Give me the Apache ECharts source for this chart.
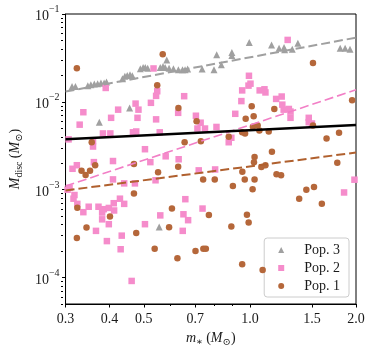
<!DOCTYPE html>
<html>
<head>
<meta charset="utf-8">
<script src="https://cdn.jsdelivr.net/npm/echarts@6/dist/echarts.min.js"></script>
<style>
html, body { margin: 0; padding: 0; background: #fff; }
#chart { width: 374px; height: 354px; }
</style>
</head>
<body>
<div id="chart"></div>
<script>
// m_star (Msun), M_disc (Msun)
var pop3 = [
    [0.313, 0.0150], [0.320, 0.0150], [0.347, 0.0153], [0.354, 0.0157], [0.362, 0.0160],
    [0.370, 0.0161], [0.378, 0.0164], [0.386, 0.0164], [0.392, 0.0168], [0.435, 0.0183],
    [0.442, 0.0195], [0.449, 0.0200], [0.457, 0.0203], [0.464, 0.0198], [0.489, 0.0238],
    [0.498, 0.0246], [0.505, 0.0246], [0.513, 0.0242], [0.557, 0.0246], [0.567, 0.0253],
    [0.575, 0.0246], [0.581, 0.0299], [0.590, 0.0242], [0.607, 0.0238], [0.627, 0.0232],
    [0.644, 0.0232], [0.655, 0.0232], [0.666, 0.0236], [0.732, 0.0236], [0.791, 0.0232],
    [0.805, 0.0343], [0.830, 0.0264], [0.889, 0.0364], [0.889, 0.0338], [0.996, 0.0473],
    [1.152, 0.0445], [1.21, 0.0408], [1.25, 0.0415], [1.255, 0.0391], [1.319, 0.0398],
    [1.368, 0.0466], [1.804, 0.0408], [1.863, 0.0408], [1.923, 0.0398],
    [0.374, 0.00586], [0.456, 0.00853], [0.553, 0.000375]
];

var pop2 = [
    [0.390, 0.0144], [0.533, 0.0240], [0.546, 0.0132], [0.542, 0.0117], [0.651, 0.0116],
    [0.337, 0.00762], [0.423, 0.00815], [0.474, 0.00955], [0.483, 0.00815], [0.524, 0.00975],
    [0.626, 0.00750], [0.703, 0.00695], [0.404, 0.00658], [0.480, 0.00658], [0.542, 0.00632],
    [1.28, 0.0507], [0.994, 0.0198], [1.004, 0.0161], [0.991, 0.0153], [0.951, 0.0135],
    [1.066, 0.0135], [1.100, 0.0139], [1.107, 0.0128], [0.946, 0.0102], [0.909, 0.00731],
    [1.187, 0.0108], [1.231, 0.0115], [1.236, 0.00930], [1.247, 0.00815], [1.290, 0.00830],
    [1.304, 0.00775], [1.469, 0.00658], [1.469, 0.00587], [0.710, 0.00497], [0.746, 0.00497],
    [0.804, 0.00518], [0.329, 0.00550], [0.306, 0.00374], [0.359, 0.00357], [0.359, 0.00310],
    [0.383, 0.00437], [0.402, 0.00437], [0.466, 0.00450], [0.476, 0.00460], [0.555, 0.00450],
    [0.504, 0.00289], [0.628, 0.00222], [0.577, 0.00240], [0.522, 0.00206], [0.409, 0.00212],
    [0.314, 0.00173], [0.323, 0.00190], [0.361, 0.00206], [0.409, 0.00131], [0.440, 0.00118],
    [0.472, 0.00118], [0.540, 0.00128], [0.308, 0.00105], [0.304, 0.00100], [0.318, 0.000870],
    [0.316, 0.000790], [0.324, 0.000690], [0.349, 0.000640], [0.372, 0.000640], [0.385, 0.000600],
    [0.398, 0.000620], [0.411, 0.000702], [0.428, 0.000790], [0.440, 0.000690], [0.412, 0.000580],
    [0.337, 0.000555], [0.557, 0.000510], [0.656, 0.000780], [0.668, 0.000450], [0.734, 0.000610],
    [0.381, 0.000550], [0.381, 0.000460], [0.398, 0.000405], [0.366, 0.000340], [0.393, 0.000260],
    [0.433, 0.000300], [0.430, 0.000210], [0.504, 0.000405], [0.648, 0.000525], [0.645, 0.000340],
    [0.462, 0.0000915], [1.304, 0.00658], [1.50, 0.00567], [0.871, 0.00347], [0.886, 0.00390],
    [0.797, 0.00170], [1.98, 0.00130], [1.85, 0.000930], [0.716, 0.00166], [0.725, 0.00579]
];

var pop1 = [
    [0.323, 0.0242], [0.566, 0.0349], [0.546, 0.0155], [0.627, 0.00851], [1.012, 0.00890],
    [1.173, 0.00830], [1.025, 0.00685], [0.973, 0.00641], [1.51, 0.0276], [1.95, 0.0104],
    [1.020, 0.00522], [1.052, 0.00537], [1.51, 0.00537], [0.871, 0.00400], [0.951, 0.00450],
    [0.969, 0.00437], [1.064, 0.00473], [1.131, 0.00460], [1.65, 0.00383], [1.79, 0.00444],
    [1.155, 0.00271], [1.031, 0.00236], [1.027, 0.00206], [1.078, 0.00181], [1.107, 0.00190],
    [0.952, 0.00160], [1.77, 0.00203], [0.795, 0.00131], [0.967, 0.00131], [1.031, 0.00131],
    [1.19, 0.00150], [1.226, 0.00146], [0.895, 0.00110], [1.018, 0.00101], [1.446, 0.00100],
    [1.52, 0.00107], [1.38, 0.000790], [1.60, 0.000690], [0.981, 0.000520], [0.992, 0.000423],
    [0.886, 0.000380], [0.951, 0.000142], [1.087, 0.000122], [0.706, 0.00602], [0.356, 0.00347],
    [0.653, 0.00347], [0.726, 0.00357], [0.364, 0.00190], [0.333, 0.00164], [0.342, 0.00147],
    [0.352, 0.00164], [0.469, 0.00196], [0.549, 0.00158], [0.626, 0.00183], [0.469, 0.000905],
    [0.737, 0.00131], [0.324, 0.000625], [0.401, 0.000497], [0.601, 0.000610], [0.765, 0.000515],
    [0.323, 0.000282], [0.344, 0.000371], [0.476, 0.000321], [0.537, 0.000213], [0.590, 0.000373],
    [0.623, 0.000166], [0.701, 0.000200], [0.738, 0.000213], [0.750, 0.000213]
];

// fitted relations (end points)
var fitPop3 = [[0.3, 0.0131], [2.0, 0.0538]];
var fitPop2 = [[0.3, 0.00110], [2.0, 0.0137]];
var fitPop1 = [[0.3, 0.00098], [2.0, 0.00265]];
var fitAll = [[0.3, 0.00375], [2.0, 0.00545]];

var xTicks = [0.3, 0.4, 0.5, 0.7, 1.0, 1.5, 2.0];
var xMinorTicks = [0.6, 0.8, 0.9];
var yTicks = [1e-4, 1e-3, 1e-2, 1e-1];
var yMinorTicks = [];
[1e-5, 1e-4, 1e-3, 1e-2].forEach(function(d) {
    for (var k = 2; k <= 9; k++) {
        var v = k * d;
        if (v >= 5e-5 && v < 0.1) yMinorTicks.push(v);
    }
});

var serif = '"Liberation Serif", "DejaVu Serif", serif';
var ink = '#1a1a1a';

var gridPos = { left: 63, right: 18, top: 14, bottom: 50 };

function scatter(name, data, symbol, color, size, z) {
    return {
        name: name,
        type: 'scatter',
        data: data,
        symbol: symbol,
        symbolSize: size,
        itemStyle: { color: color, opacity: 1 },
        z: z,
        silent: true
    };
}

function fit(data, color, width, dashed) {
    return {
        type: 'line',
        data: data,
        symbol: 'none',
        lineStyle: { color: color, width: width, type: dashed ? [9, 4] : 'solid' },
        z: 5,
        silent: true
    };
}

var nameRich = {
    i: { fontFamily: serif, fontStyle: 'italic', fontSize: 14, color: ink, lineHeight: 18, verticalAlign: 'middle' },
    n: { fontFamily: serif, fontSize: 14, color: ink, lineHeight: 18, verticalAlign: 'middle' },
    sub: { fontFamily: serif, fontSize: 10, color: ink, lineHeight: 10, verticalAlign: 'bottom' }
};

var chart = echarts.init(document.getElementById('chart'), null, { renderer: 'canvas' });

chart.setOption({
    animation: false,
    backgroundColor: '#fff',
    grid: [
        Object.assign({ show: true, borderColor: '#000', borderWidth: 1, backgroundColor: 'transparent' }, gridPos),
        Object.assign({ show: false }, gridPos)
    ],
    xAxis: [{
        type: 'log',
        logBase: 10,
        min: 0.3,
        max: 2.0,
        gridIndex: 0,
        axisLine: { show: true, lineStyle: { color: '#000', width: 1 } },
        axisTick: { show: true, customValues: xTicks, length: 3.5, lineStyle: { color: '#000' } },
        axisLabel: {
            customValues: xTicks,
            margin: 8,
            fontFamily: serif,
            fontSize: 14,
            color: ink,
            formatter: function(v) { return v.toFixed(1); }
        },
        splitLine: { show: false },
        name: '{i|m}{sub|\u2217} {n|(}{i|M}{sub|\u2299}{n|)}',
        nameLocation: 'middle',
        nameGap: 25,
        nameTextStyle: { rich: nameRich }
    }, {
        type: 'log',
        logBase: 10,
        min: 0.3,
        max: 2.0,
        gridIndex: 1,
        axisLine: { show: false },
        axisTick: { show: true, customValues: xMinorTicks, length: 2, lineStyle: { color: '#000' } },
        axisLabel: { show: false },
        splitLine: { show: false }
    }],
    yAxis: [{
        type: 'log',
        logBase: 10,
        min: 5e-5,
        max: 0.1,
        gridIndex: 0,
        axisLine: { show: true, lineStyle: { color: '#000', width: 1 } },
        axisTick: { show: true, customValues: yTicks, length: 3.5, lineStyle: { color: '#000' } },
        axisLabel: {
            customValues: yTicks,
            margin: 6,
            formatter: function(v) {
                var e = Math.round(Math.log(v) / Math.LN10);
                return '{b|10}{s|\u2212' + Math.abs(e) + '}';
            },
            rich: {
                b: { fontFamily: serif, fontSize: 14, color: ink, lineHeight: 19, verticalAlign: 'bottom' },
                s: { fontFamily: serif, fontSize: 10, color: ink, lineHeight: 10, verticalAlign: 'top' }
            }
        },
        splitLine: { show: false },
        name: '{i|M}{sub|disc} {n|(}{i|M}{sub|\u2299}{n|)}',
        nameLocation: 'middle',
        nameRotate: 90,
        nameGap: 40,
        nameTextStyle: { rich: nameRich }
    }, {
        type: 'log',
        logBase: 10,
        min: 5e-5,
        max: 0.1,
        gridIndex: 1,
        axisLine: { show: false },
        axisTick: { show: true, customValues: yMinorTicks, length: 2, lineStyle: { color: '#000' } },
        axisLabel: { show: false },
        splitLine: { show: false }
    }],
    legend: {
        data: ['Pop. 3', 'Pop. 2', 'Pop. 1'],
        orient: 'vertical',
        right: 25,
        bottom: 57,
        itemWidth: 6,
        itemHeight: 6,
        itemGap: 4,
        padding: [5, 9, 4, 14],
        backgroundColor: 'rgba(255,255,255,0.85)',
        borderColor: '#cccccc',
        borderWidth: 1,
        borderRadius: 3,
        selectedMode: false,
        textStyle: { fontFamily: serif, fontSize: 14, color: ink, padding: [0, 0, 0, 15], lineHeight: 14 }
    },
    series: [
        scatter('Pop. 3', pop3, 'triangle', '#a0a0a0', 7, 2),
        scatter('Pop. 2', pop2, 'rect', '#f58ccb', 6.5, 3),
        scatter('Pop. 1', pop1, 'circle', '#b5673a', 6.5, 4),
        fit(fitPop3, '#a0a0a0', 2, true),
        fit(fitPop2, '#f27fc6', 1.6, true),
        fit(fitPop1, '#b0602e', 2, true),
        fit(fitAll, '#000000', 2.5, false)
    ]
});
</script>
</body>
</html>
